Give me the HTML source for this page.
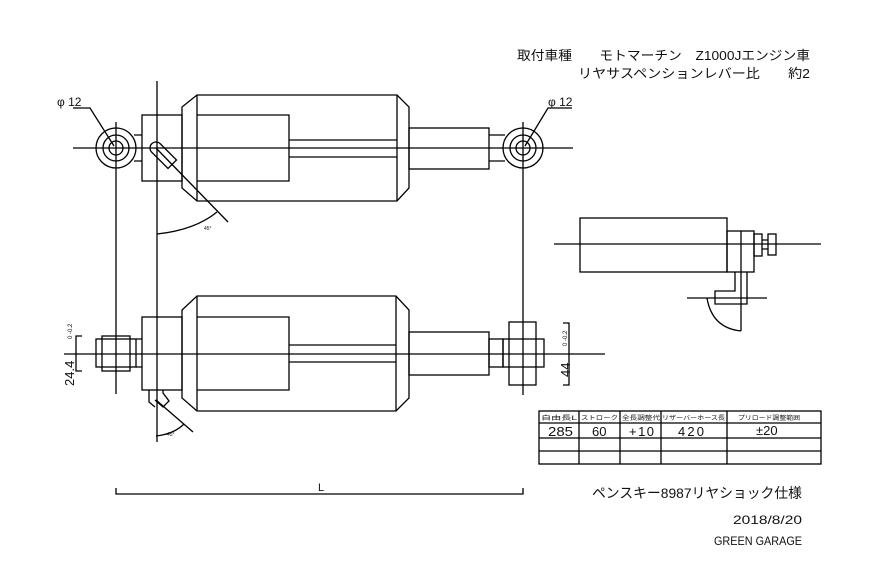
<!DOCTYPE html>
<html><head><meta charset="utf-8"><style>
html,body{margin:0;padding:0;background:#fff;}
svg{display:block}
text{font-family:"Liberation Sans","Noto Sans CJK JP",sans-serif;fill:#111}
</style></head><body>
<svg width="884" height="580" viewBox="0 0 884 580" xmlns="http://www.w3.org/2000/svg">
<g stroke="#000" stroke-width="1.3" fill="none">
<!-- TOP SHOCK -->
<line x1="73" y1="148" x2="573" y2="148"/>
<line x1="157" y1="81" x2="157" y2="442"/>
<line x1="116" y1="122" x2="116" y2="394"/>
<line x1="523" y1="122" x2="523" y2="395"/>
<circle cx="116" cy="148" r="20"/><circle cx="116" cy="148" r="13"/><circle cx="116" cy="148" r="7"/>
<circle cx="523" cy="148" r="20"/><circle cx="523" cy="148" r="13"/><circle cx="523" cy="148" r="7"/>
<path d="M134,135 H142 M134,161 H142"/>
<rect x="142" y="115" width="40" height="66"/>
<path d="M197,95 H397 L409,107 V188 L397,201 H197 L182,188 V107 Z"/>
<line x1="197" y1="95" x2="197" y2="201"/>
<line x1="397" y1="95" x2="397" y2="201"/>
<path d="M197,115 H289 V181 H197"/>
<path d="M289,140 H397 M289,157 H397"/>
<rect x="409" y="128" width="80" height="41"/>
<path d="M489,135 H505 M489,161 H505"/>
<path transform="translate(156,148) rotate(45)" d="M0,-6 L23,-6 L23,6 L0,6 A6,6 0 0 1 0,-6"/>
<line x1="156" y1="148" x2="228" y2="222"/>
<path d="M157,234 Q195,230 217,212"/>
<path d="M73,108 H90 L114,146"/>
<path d="M572,108 H548 L525,146"/>

<!-- BOTTOM SHOCK -->
<line x1="64" y1="354" x2="605" y2="354"/>
<rect x="96" y="339" width="40" height="28"/>
<rect x="102" y="336" width="28" height="35"/>
<path d="M136,339 H142 M136,367 H142"/>
<rect x="142" y="317" width="40" height="73"/>
<path d="M197,296 H396 L409,310 V398 L396,411 H197 L182,398 V310 Z"/>
<line x1="197" y1="296" x2="197" y2="411"/>
<line x1="396" y1="296" x2="396" y2="411"/>
<path d="M197,317 H289 V390 H197"/>
<path d="M289,345 H396 M289,362 H396"/>
<rect x="409" y="332" width="80" height="43"/>
<rect x="489" y="339" width="14" height="28"/>
<rect x="503" y="339" width="41" height="28"/>
<rect x="509" y="322" width="27" height="63"/>
<path d="M82,336 H76 V371 H82"/>
<path d="M563,323 H569 V385 H563"/>
<path d="M149,390 V402 L155,407 M163,390 V393 L169,401 L163,407 L155,400"/>
<line x1="156" y1="400" x2="193" y2="432"/>
<path d="M156,436 Q174,434 184,424"/>

<!-- SIDE VIEW -->
<line x1="554" y1="244" x2="821" y2="244"/>
<rect x="580" y="218" width="147" height="54"/>
<rect x="727" y="231" width="27" height="41"/>
<line x1="741" y1="231" x2="741" y2="331"/>
<rect x="754" y="234" width="8" height="22"/>
<path d="M762,240 H768 M762,249 H768"/>
<rect x="768" y="234" width="8" height="21"/>
<path d="M735,272 V291 H715 V304 H747 V272"/>
<line x1="687" y1="298" x2="767" y2="298"/>
<path d="M707,298 Q712,328 741,331"/>

<!-- L dimension -->
<path d="M116,488 V494 H523 V488"/>

<!-- TABLE -->
<rect x="539" y="411" width="282" height="53"/>
<path d="M539,423 H821 M539,438 H821 M539,451 H821"/>
<path d="M579,411 V464 M620,411 V464 M661,411 V464 M727,411 V464"/>
</g>
<g stroke="none">
<text x="57" y="106" font-size="12">φ 12</text>
<text x="548" y="106" font-size="12">φ 12</text>
<text x="318" y="491" font-size="11" fill="#444">L</text>
<text x="204" y="230" font-size="5" fill="#999">45°</text>
<text x="167" y="436" font-size="5" fill="#999">45°</text>
<text transform="translate(74,386) rotate(-90)" font-size="13">24.4</text>
<text transform="translate(72,339) rotate(-90)" font-size="6">0  -0.2</text>
<text transform="translate(570,377) rotate(-90)" font-size="13">44</text>
<text transform="translate(567,346) rotate(-90)" font-size="6">0  -0.2</text>

<text x="517" y="60" font-size="13" textLength="293" lengthAdjust="spacingAndGlyphs">取付車種　　モトマーチン　Z1000Jエンジン車</text>
<text x="578" y="78" font-size="13" textLength="232" lengthAdjust="spacingAndGlyphs">リヤサスペンションレバー比　　約2</text>

<text x="541" y="420" font-size="6" textLength="36" lengthAdjust="spacingAndGlyphs">自由長L</text>
<text x="581" y="420" font-size="6" textLength="37" lengthAdjust="spacingAndGlyphs">ストローク</text>
<text x="622" y="420" font-size="6" textLength="38" lengthAdjust="spacingAndGlyphs">全長調整代</text>
<text x="662" y="420" font-size="6" textLength="63" lengthAdjust="spacingAndGlyphs">リザーバーホース長</text>
<text x="738" y="420" font-size="6" textLength="62" lengthAdjust="spacingAndGlyphs">プリロード調整範囲</text>
<text x="548" y="436" font-size="13" textLength="25" lengthAdjust="spacingAndGlyphs">285</text>
<text x="592" y="436" font-size="13">60</text>
<text x="629" y="436" font-size="13" textLength="25">+10</text>
<text x="678" y="436" font-size="13" textLength="26">420</text>
<text x="756" y="435" font-size="13">±20</text>

<text x="592" y="498" font-size="14" textLength="210" lengthAdjust="spacingAndGlyphs">ペンスキー8987リヤショック仕様</text>
<text x="733" y="524" font-size="12" textLength="69" lengthAdjust="spacingAndGlyphs">2018/8/20</text>
<text x="714" y="545" font-size="12" textLength="88" lengthAdjust="spacingAndGlyphs">GREEN GARAGE</text>
</g>
</svg>
</body></html>
